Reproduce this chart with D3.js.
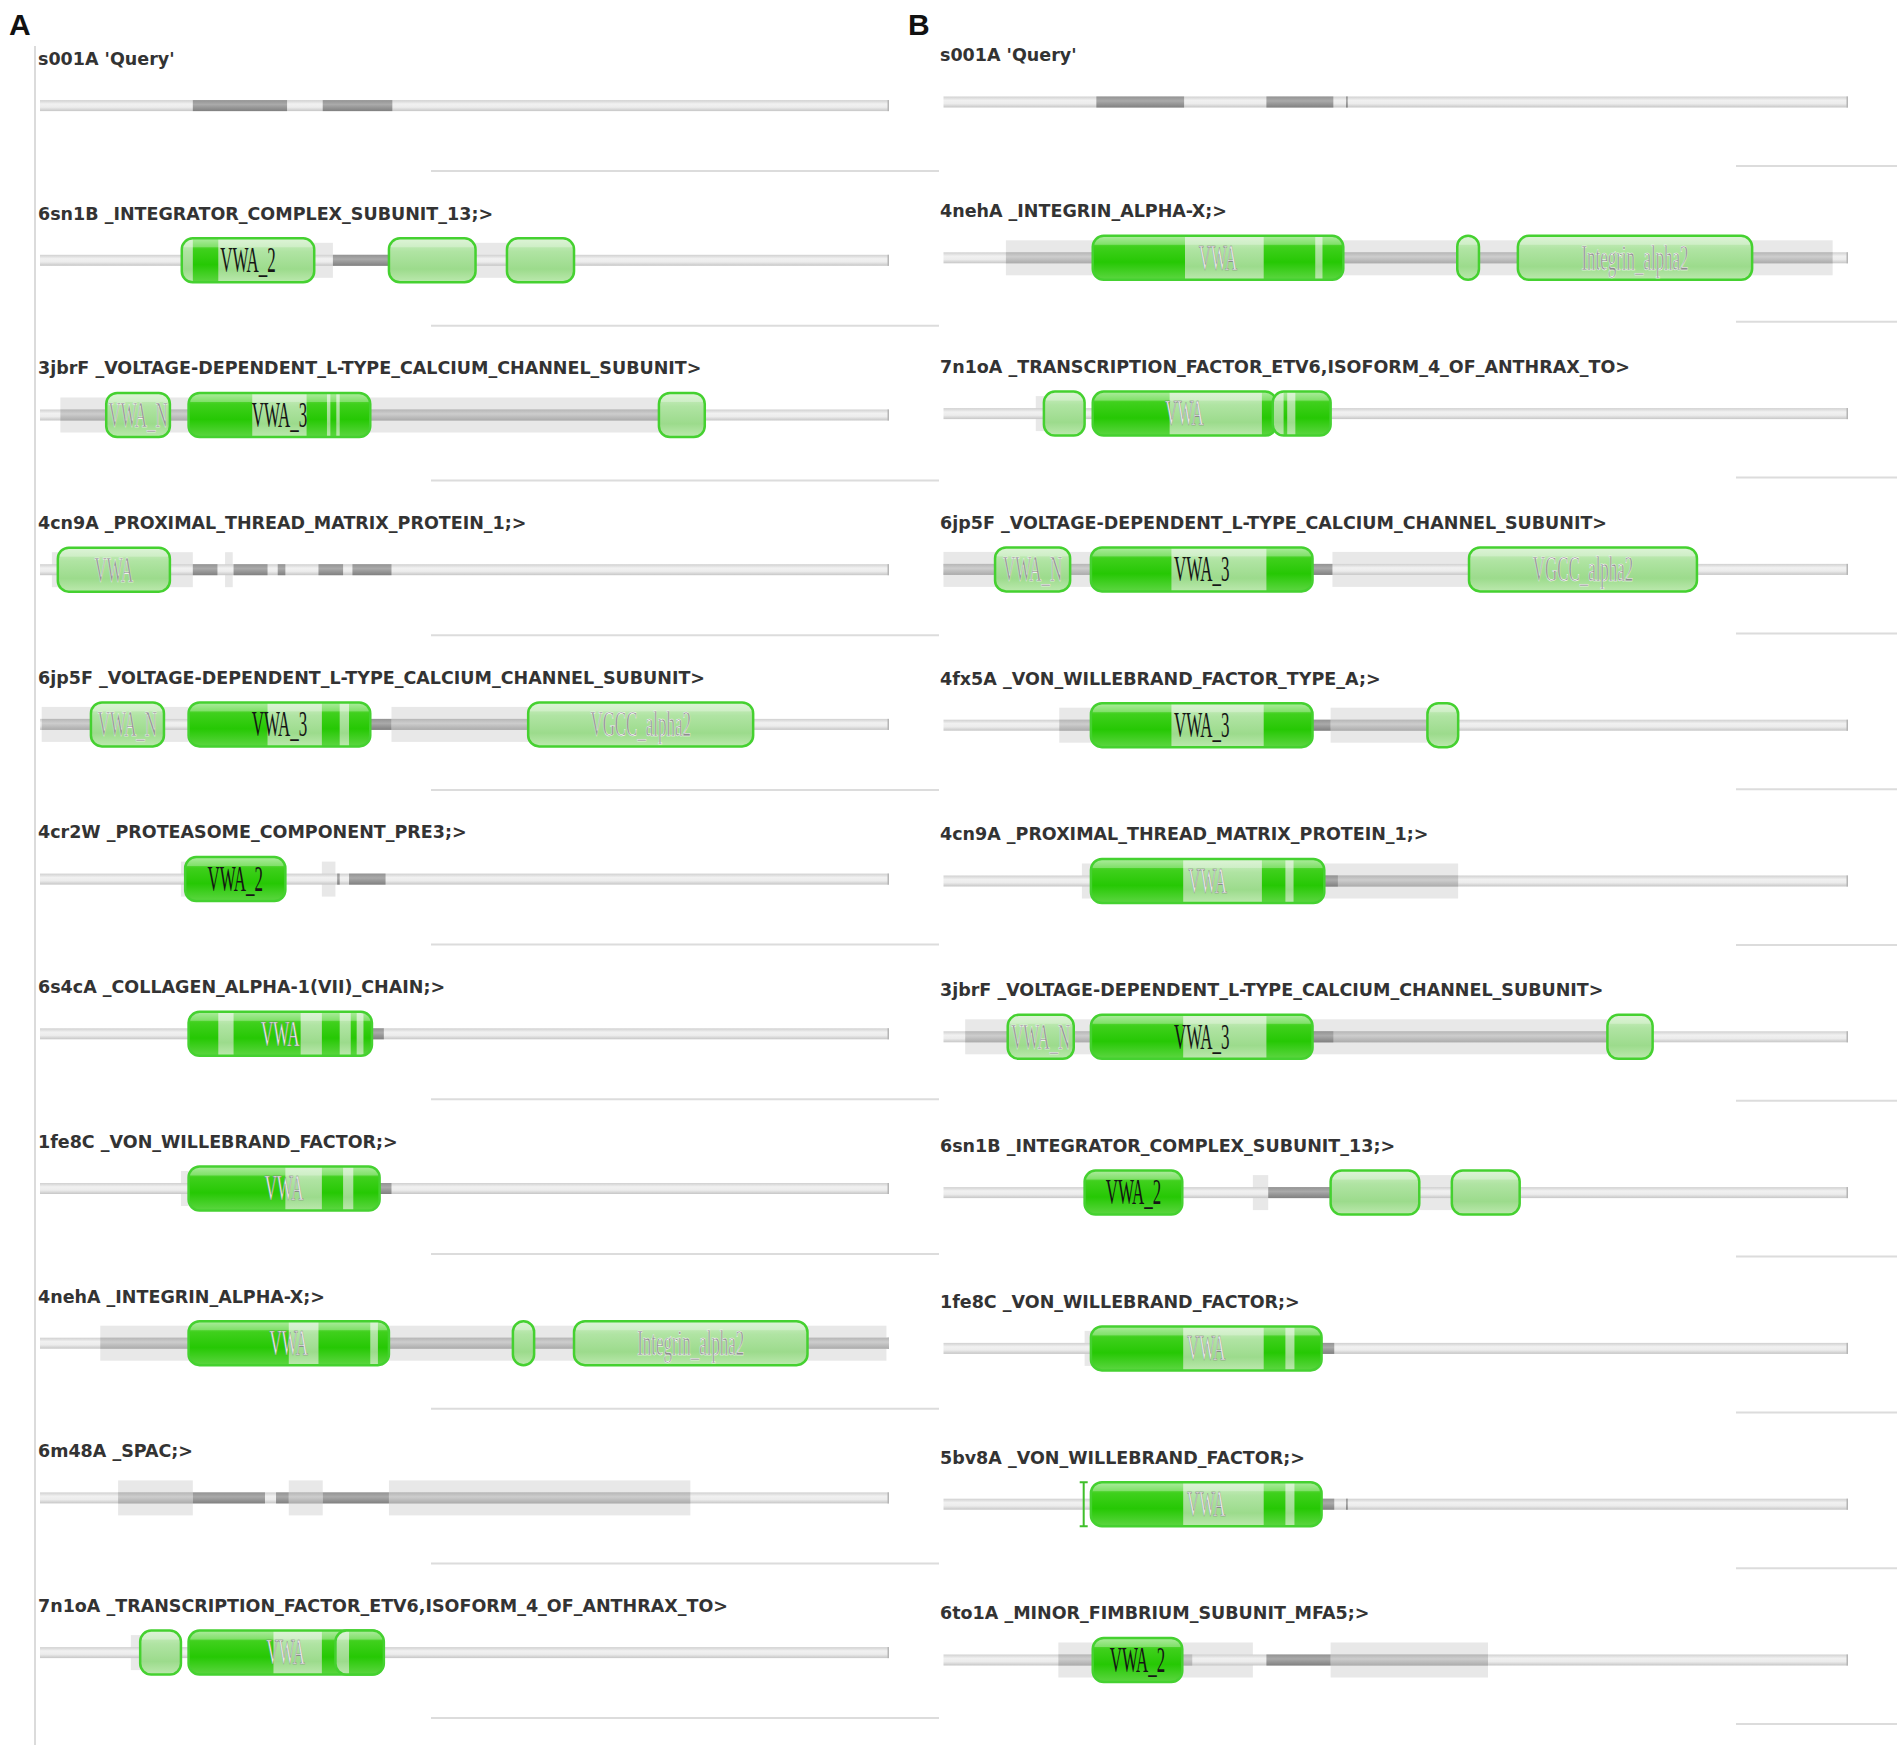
<!DOCTYPE html>
<html>
<head>
<meta charset="utf-8">
<title>Domain alignment A / B</title>
<script src="https://cdn.jsdelivr.net/npm/d3@7/dist/d3.min.js"></script>
<style>body{margin:0;background:#fff}</style>
</head>
<body>
<svg id="mainsvg" width="1904" height="1750"></svg>
<script>
// positions are in query units, 0 = start of the track, 1000 = end

// ---------- panel A ----------
const leftTitles = ["s001A 'Query'",
  "6sn1B _INTEGRATOR_COMPLEX_SUBUNIT_13;>",
  "3jbrF _VOLTAGE-DEPENDENT_L-TYPE_CALCIUM_CHANNEL_SUBUNIT>",
  "4cn9A _PROXIMAL_THREAD_MATRIX_PROTEIN_1;>",
  "6jp5F _VOLTAGE-DEPENDENT_L-TYPE_CALCIUM_CHANNEL_SUBUNIT>",
  "4cr2W _PROTEASOME_COMPONENT_PRE3;>",
  "6s4cA _COLLAGEN_ALPHA-1(VII)_CHAIN;>",
  "1fe8C _VON_WILLEBRAND_FACTOR;>",
  "4nehA _INTEGRIN_ALPHA-X;>",
  "6m48A _SPAC;>",
  "7n1oA _TRANSCRIPTION_FACTOR_ETV6,ISOFORM_4_OF_ANTHRAX_TO>"];

const leftCover = [[], [[167,345],[411,629]], [[24,732]], [[14,180],[218,227]],
  [[2,175],[414,840]], [[332,348],[166,175]], [], [[166,175]], [[71,997]],
  [[92,180],[293,333],[411,766]], [[107,118]]];

const leftMid = [[], [], [[24,732]], [], [[2,100],[414,575]], [], [], [],
  [[71,1000]], [[92,180],[293,333],[411,766]], []];

const leftDark = [[[180,291],[333,415]], [[345,411]], [],
  [[180,209],[228,268],[280,289],[328,357],[368,414]], [[389,414]],
  [[364,407],[350,353]], [[391,405]], [[400,414]], [],
  [[180,265],[278,293],[333,411]], []];

// [start, end, label, kind (s = aligned/bright, w = pale), pale bands]
const leftPills = [[],
  [[167,323,'VWA_2','s',[[167,180],[210,323]]], [411,513,'','w'], [550,629,'','w']],
  [[78,153,'VWA_N','w'], [175,389,'VWA_3','s',[[250,314],[338,342],[349,353]]], [729,783,'','w']],
  [[21,153,'VWA','w']],
  [[60,146,'VWA_N','w'], [175,389,'VWA_3','s',[[268,332],[353,364]]], [575,840,'VGCC_alpha2','w']],
  [[171,289,'VWA_2','s',[]]],
  [[175,391,'VWA','s',[[210,228],[307,332],[353,366],[373,381]]]],
  [[175,400,'VWA','s',[[289,332],[357,369]]]],
  [[175,411,'VWA','s',[[293,328],[389,398]]], [557,582,'','w'], [629,904,'Integrin_alpha2','w']],
  [],
  [[118,166,'','w'], [175,404,'VWA','s',[[275,332]]], [348,405,'','s',[[348,364]]]]];

const leftMarks = [[], [], [], [], [], [], [], [], [], [], []];

// ---------- panel B ----------
const rightTitles = ["s001A 'Query'",
  "4nehA _INTEGRIN_ALPHA-X;>",
  "7n1oA _TRANSCRIPTION_FACTOR_ETV6,ISOFORM_4_OF_ANTHRAX_TO>",
  "6jp5F _VOLTAGE-DEPENDENT_L-TYPE_CALCIUM_CHANNEL_SUBUNIT>",
  "4fx5A _VON_WILLEBRAND_FACTOR_TYPE_A;>",
  "4cn9A _PROXIMAL_THREAD_MATRIX_PROTEIN_1;>",
  "3jbrF _VOLTAGE-DEPENDENT_L-TYPE_CALCIUM_CHANNEL_SUBUNIT>",
  "6sn1B _INTEGRATOR_COMPLEX_SUBUNIT_13;>",
  "1fe8C _VON_WILLEBRAND_FACTOR;>",
  "5bv8A _VON_WILLEBRAND_FACTOR;>",
  "6to1A _MINOR_FIMBRIUM_SUBUNIT_MFA5;>"];

const rightCover = [[], [[69,983]], [[102,113]], [[0,165],[430,833]],
  [[128,163],[428,535]], [[153,569]], [[24,734]], [[342,359],[522,564]],
  [[156,165]], [], [[127,342],[428,602]]];

const rightMid = [[], [[69,983]], [], [[0,165]], [[128,163],[428,535]], [[421,569]],
  [[24,734]], [], [], [], [[127,275],[428,602]]];

const rightDark = [[[169,266],[357,431],[445,447]], [], [], [[404,430]],
  [[408,428]], [[421,436]], [[408,431]], [[359,428]], [[418,432]],
  [[418,432],[445,447]], [[357,428]]];

const rightPills = [[],
  [[165,442,'VWA','s',[[267,354],[411,419]]], [568,592,'','w'], [635,894,'Integrin_alpha2','w']],
  [[111,156,'','w'], [165,368,'VWA','s',[[250,352]]], [364,428,'','s',[[364,376],[380,389]]]],
  [[57,140,'VWA_N','w'], [163,408,'VWA_3','s',[[252,357]]], [581,833,'VGCC_alpha2','w']],
  [[163,408,'VWA_3','s',[[252,354]]], [535,569,'','w']],
  [[163,421,'VWA','s',[[265,352],[378,387]]]],
  [[71,144,'VWA_N','w'], [163,408,'VWA_3','s',[[265,357]]], [734,784,'','w']],
  [[156,264,'VWA_2','s',[]], [428,526,'','w'], [562,637,'','w']],
  [[163,418,'VWA','s',[[265,354],[378,388]]]],
  [[163,418,'VWA','s',[[265,354],[378,388]]]],
  [[165,264,'VWA_2','s',[]]]];

const rightMarks = [[], [], [], [], [], [], [], [], [], [155], []];

const svg = d3.select('#mainsvg');
const defs = svg.append('defs');

function grad(id, stops) {
  const g = defs.append('linearGradient').attr('id', id)
    .attr('x1', 0).attr('y1', 0).attr('x2', 0).attr('y2', 1);
  stops.forEach(([o, c]) => g.append('stop').attr('offset', o).attr('stop-color', c));
}
grad('gTrack', [[0,'#d0d0d0'],[0.35,'#f1f1f1'],[0.65,'#ececec'],[1,'#c6c6c6']]);
grad('gMid',   [[0,'#b6b6b6'],[0.4,'#cdcdcd'],[1,'#ababab']]);
grad('gDark',  [[0,'#939393'],[0.4,'#aaaaaa'],[1,'#808080']]);
grad('gPale',  [[0,'#d2f0c9'],[0.3,'#b0e4a3'],[0.7,'#9cdb8c'],[1,'#bce9ae']]);
grad('gBright',[[0,'#8fe57a'],[0.25,'#3fd01c'],[0.6,'#26c804'],[1,'#5cd641']]);

// panel labels and left rule
svg.append('text').text('A').attr('x', 9).attr('y', 35)
  .attr('font-family', 'Liberation Sans, Arial, sans-serif').attr('font-weight', 'bold')
  .attr('font-size', 30).attr('fill', '#111');
svg.append('text').text('B').attr('x', 908).attr('y', 35)
  .attr('font-family', 'Liberation Sans, Arial, sans-serif').attr('font-weight', 'bold')
  .attr('font-size', 30).attr('fill', '#111');
svg.append('line').attr('x1', 35).attr('x2', 35).attr('y1', 46).attr('y2', 1745)
  .attr('stroke', '#cfcfcf').attr('stroke-width', 1.5);

function drawPanel(cfg, titles, cover, mid, dark, pills, marks) {
  const x = d3.scaleLinear().domain([0, 1000]).range([cfg.x0, cfg.x1]);
  const y = d3.scaleLinear().domain([0, titles.length - 1])
    .range([cfg.y0, cfg.y0 + cfg.step * (titles.length - 1)]);
  const g = svg.append('g').attr('id', cfg.key);

  titles.forEach((title, i) => {
    const cy = y(i);
    const row = g.append('g');

    row.append('text').text(title)
      .attr('x', cfg.titleX).attr('y', cy - 47).attr('dy', '0.36em')
      .attr('font-family', 'DejaVu Sans, Verdana, sans-serif').attr('font-weight', 'bold')
      .attr('font-size', cfg.fontSize).attr('fill', '#333');

    row.append('line').attr('x1', cfg.sep0).attr('x2', cfg.sep1)
      .attr('y1', cy + cfg.sepDy).attr('y2', cy + cfg.sepDy)
      .attr('stroke', '#dcdcdc').attr('stroke-width', 2);

    cover[i].forEach(([a, b]) => row.append('rect')
      .attr('x', x(a)).attr('width', x(b) - x(a)).attr('y', cy - 17.5).attr('height', 35)
      .attr('fill', '#e8e8e8'));

    row.append('rect').attr('x', x(0)).attr('width', x(1000) - x(0))
      .attr('y', cy - 5.5).attr('height', 11).attr('fill', 'url(#gTrack)');
    row.append('rect').attr('x', x(1000) - 1.5).attr('width', 1.5)
      .attr('y', cy - 5.5).attr('height', 11).attr('fill', '#b5b5b5');

    mid[i].forEach(([a, b]) => row.append('rect')
      .attr('x', x(a)).attr('width', x(b) - x(a)).attr('y', cy - 5.5).attr('height', 11)
      .attr('fill', 'url(#gMid)'));
    dark[i].forEach(([a, b]) => row.append('rect')
      .attr('x', x(a)).attr('width', x(b) - x(a)).attr('y', cy - 5.5).attr('height', 11)
      .attr('fill', 'url(#gDark)'));

    pills[i].forEach((p, k) => {
      const [a, b, label, kind, bands] = p;
      const px = x(a), pw = x(b) - x(a), ph = 44, r = Math.min(11, pw / 2);
      const id = `clip-${cfg.key}-${i}-${k}`;
      defs.append('clipPath').attr('id', id).append('rect')
        .attr('x', px).attr('y', cy - ph / 2).attr('width', pw).attr('height', ph)
        .attr('rx', r).attr('ry', r);
      const inner = row.append('g').attr('clip-path', `url(#${id})`);
      inner.append('rect').attr('x', px).attr('y', cy - ph / 2).attr('width', pw).attr('height', ph)
        .attr('fill', kind === 's' ? 'url(#gBright)' : 'url(#gPale)');
      (bands || []).forEach(([c, d]) => inner.append('rect')
        .attr('x', x(c)).attr('width', x(d) - x(c)).attr('y', cy - ph / 2).attr('height', ph)
        .attr('fill', 'url(#gPale)'));
      // glossy top highlight
      inner.append('rect').attr('x', px).attr('y', cy - ph / 2).attr('width', pw).attr('height', 9)
        .attr('fill', '#fff').attr('opacity', 0.28);
      row.append('rect').attr('x', px).attr('y', cy - ph / 2).attr('width', pw).attr('height', ph)
        .attr('rx', r).attr('ry', r).attr('fill', 'none')
        .attr('stroke', '#45d130').attr('stroke-width', 2.5);

      if (label) {
        const light = kind === 'w' || label === 'VWA';
        row.append('text').text(label)
          .attr('transform', `translate(${px + pw / 2},${cy}) scale(0.47,1)`)
          .attr('text-anchor', 'middle').attr('dy', '0.33em')
          .attr('font-family', 'Liberation Serif, Times New Roman, serif')
          .attr('font-size', 36)
          .attr('fill', kind === 'w' ? '#8e8e8e' : (light ? '#eeeeee' : '#151515'))
          .attr('stroke', kind === 'w' ? '#ffffff' : (light ? '#7a7a7a' : 'none'))
          .attr('stroke-width', 0.6);
      }
    });

    marks[i].forEach(m => {
      const mx = x(m);
      row.append('path')
        .attr('d', `M${mx - 4},${cy - 22}H${mx + 4}M${mx},${cy - 22}V${cy + 22}M${mx - 4},${cy + 22}H${mx + 4}`)
        .attr('stroke', '#3fbf2a').attr('stroke-width', 2).attr('fill', 'none');
    });
  });
}

drawPanel({key: 'A', x0: 40, x1: 889, y0: 105.6, step: 154.7, titleX: 38,
           sep0: 431, sep1: 939, sepDy: 65.5, fontSize: 17.5},
          leftTitles, leftCover, leftMid, leftDark, leftPills, leftMarks);
drawPanel({key: 'B', x0: 943.5, x1: 1848, y0: 102, step: 155.8, titleX: 940,
           sep0: 1736, sep1: 1897, sepDy: 64, fontSize: 17.5},
          rightTitles, rightCover, rightMid, rightDark, rightPills, rightMarks);
</script>
</body>
</html>
